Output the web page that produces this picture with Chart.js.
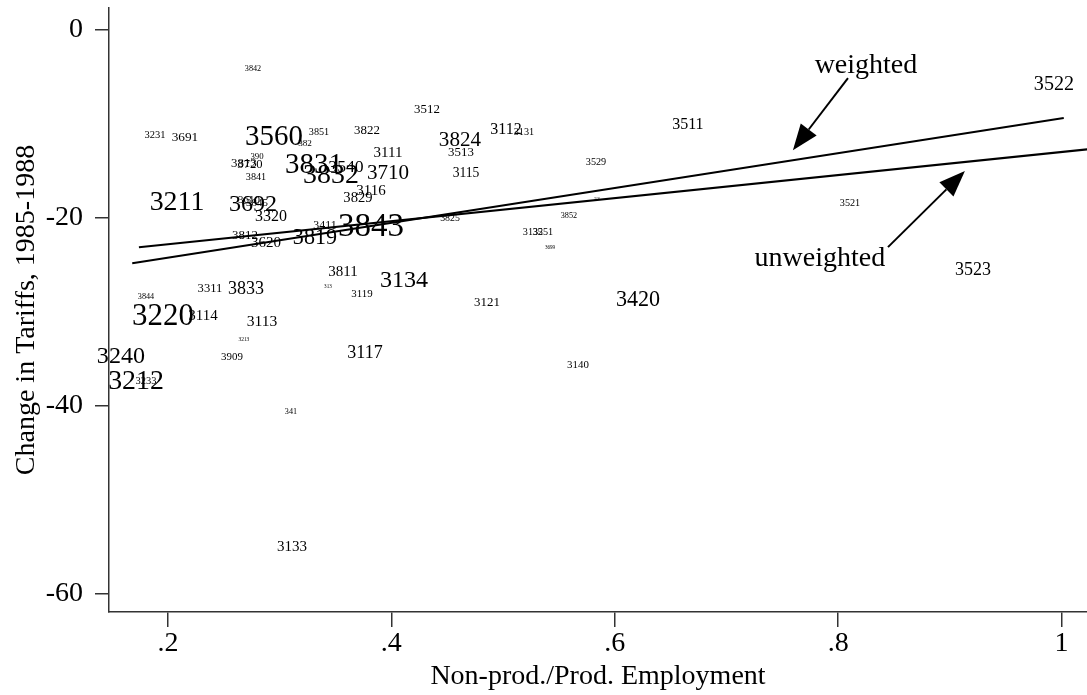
<!DOCTYPE html>
<html>
<head>
<meta charset="utf-8">
<script src="https://cdn.jsdelivr.net/npm/chart.js@4/dist/chart.umd.min.js"></script>
<style>
    html, body { margin: 0; padding: 0; background: #fff; }
    #contenedor { width: 1087px; height: 695px; }
</style>
</head>
<body>
<div id="contenedor"><canvas id="grafica"></canvas></div>
<script>
// industry codes (ISIC) used as point labels
const codigos = ["3842", "3231", "3691", "3560", "3851", "3822", "3512", "382", "3813", "390",
    "3720", "3841", "3831", "3832", "3540", "3710", "3111", "3116", "3829", "3824",
    "3513", "3115", "3112", "3131", "3511", "3529", "3522", "3521", "3523", "3211",
    "3692", "3610", "3845", "3320", "3812", "3620", "3819", "3411", "3843", "3825",
    "3132", "3551", "3852", "3699", "3530", "3811", "313", "3119", "3134", "3121",
    "3420", "3844", "3311", "3833", "3220", "3114", "3113", "3213", "3909", "3117",
    "3140", "3240", "3212", "3233", "341", "3133"];

// non-production / production employment
const noProd = [0.2761, 0.1884, 0.2152, 0.2949, 0.3352, 0.3782, 0.4319, 0.3227, 0.2680, 0.2797,
    0.2734, 0.2788, 0.3307, 0.3459, 0.3594, 0.3970, 0.3970, 0.3817, 0.3701, 0.4614,
    0.4623, 0.4668, 0.5026, 0.5187, 0.6655, 0.5832, 0.9932, 0.8106, 0.9207, 0.2081,
    0.2761, 0.2725, 0.2797, 0.2922, 0.2689, 0.2877, 0.3316, 0.3406, 0.3817, 0.4525,
    0.5268, 0.5357, 0.5590, 0.5420, 0.5841, 0.3567, 0.3432, 0.3737, 0.4113, 0.4856,
    0.6208, 0.1803, 0.2376, 0.2698, 0.1955, 0.2313, 0.2842, 0.2680, 0.2573, 0.3764,
    0.5671, 0.1579, 0.1714, 0.1803, 0.3101, 0.3110];

// change in tariffs 1985-1988
const cambioArancel = [-4.15, -11.17, -11.38, -11.38, -10.85, -10.64, -8.51, -12.02, -14.15, -13.51,
    -14.36, -15.64, -14.36, -15.53, -14.57, -15.21, -13.09, -17.13, -17.87, -11.70,
    -12.98, -15.21, -10.64, -10.85, -10.11, -14.04, -5.85, -18.40, -25.53, -18.40,
    -18.62, -18.09, -18.40, -19.89, -21.91, -22.66, -22.13, -20.85, -20.96, -20.00,
    -21.49, -21.49, -19.79, -23.19, -17.98, -25.74, -27.34, -28.09, -26.70, -29.04,
    -28.72, -28.40, -27.55, -27.55, -30.53, -30.43, -31.06, -32.87, -34.79, -34.36,
    -35.64, -34.79, -37.45, -37.34, -40.64, -55.00];

// relative weight of each industry (sets label size)
const pesos = [0.24, 0.31, 0.39, 0.85, 0.30, 0.38, 0.38, 0.27, 0.38, 0.26,
    0.37, 0.30, 0.85, 0.82, 0.52, 0.62, 0.44, 0.44, 0.43, 0.62,
    0.38, 0.40, 0.47, 0.30, 0.47, 0.30, 0.59, 0.30, 0.53, 0.82,
    0.71, 0.32, 0.32, 0.47, 0.38, 0.44, 0.65, 0.35, 0.97, 0.29,
    0.30, 0.30, 0.24, 0.15, 0.09, 0.44, 0.15, 0.32, 0.71, 0.38,
    0.65, 0.24, 0.37, 0.53, 0.91, 0.44, 0.46, 0.16, 0.32, 0.53,
    0.32, 0.71, 0.82, 0.31, 0.24, 0.44];

const xTicks = [0.2, 0.4, 0.6, 0.8, 1];
const yTicks = [0, -20, -40, -60];

// fitted lines
const ponderadaX = [0.168, 1.002];
const ponderadaY = [-24.8, -9.36];
const sinPonderarX = [0.174, 1.03];
const sinPonderarY = [-23.1, -12.6];

// annotations
const notas = ["weighted", "unweighted"];
const notasX = [0.8249, 0.7837];
const notasY = [-3.83, -24.26];
const flechaDesdeX = [0.8088, 0.8446];
const flechaDesdeY = [-5.11, -23.09];
const flechaHastaX = [0.7595, 0.9135];
const flechaHastaY = [-12.77, -15.0];

const serif = '"Liberation Serif", "Times New Roman", serif';

const etiquetas = {
    id: "etiquetas",
    beforeDatasetsDraw(chart) {
        const ctx = chart.ctx;
        const sx = chart.scales.x;
        const sy = chart.scales.y;
        ctx.save();
        ctx.fillStyle = "#000";
        ctx.textAlign = "center";
        ctx.textBaseline = "middle";
        codigos.forEach((c, i) => {
            ctx.font = (pesos[i] * 34).toFixed(1) + "px " + serif;
            ctx.fillText(c, sx.getPixelForValue(noProd[i]), sy.getPixelForValue(cambioArancel[i]));
        });
        ctx.restore();
    }
};

const flechas = {
    id: "flechas",
    afterDatasetsDraw(chart) {
        const ctx = chart.ctx;
        const sx = chart.scales.x;
        const sy = chart.scales.y;
        ctx.save();
        ctx.fillStyle = "#000";
        ctx.strokeStyle = "#000";
        ctx.lineWidth = 2;
        ctx.textAlign = "center";
        ctx.textBaseline = "middle";
        ctx.font = "28px " + serif;
        notas.forEach((t, i) => {
            ctx.fillText(t, sx.getPixelForValue(notasX[i]), sy.getPixelForValue(notasY[i]));
            const x0 = sx.getPixelForValue(flechaDesdeX[i]);
            const y0 = sy.getPixelForValue(flechaDesdeY[i]);
            const x1 = sx.getPixelForValue(flechaHastaX[i]);
            const y1 = sy.getPixelForValue(flechaHastaY[i]);
            const ang = Math.atan2(y1 - y0, x1 - x0);
            const largo = 26, ancho = 10;
            const bx = x1 - largo * Math.cos(ang);
            const by = y1 - largo * Math.sin(ang);
            ctx.beginPath();
            ctx.moveTo(x0, y0);
            ctx.lineTo(bx, by);
            ctx.stroke();
            ctx.beginPath();
            ctx.moveTo(x1, y1);
            ctx.lineTo(bx + ancho * Math.sin(ang), by - ancho * Math.cos(ang));
            ctx.lineTo(bx - ancho * Math.sin(ang), by + ancho * Math.cos(ang));
            ctx.closePath();
            ctx.fill();
        });
        ctx.restore();
    }
};

function puntos(xs, ys) {
    return xs.map((x, i) => ({ x: x, y: ys[i] }));
}

new Chart(document.querySelector("#grafica"), {
    type: "scatter",
    data: {
        datasets: [
            {
                label: "industries",
                data: puntos(noProd, cambioArancel),
                pointRadius: 0,
                pointHoverRadius: 0
            },
            {
                label: "weighted",
                data: puntos(ponderadaX, ponderadaY),
                showLine: true,
                borderColor: "#000",
                borderWidth: 2,
                pointRadius: 0
            },
            {
                label: "unweighted",
                data: puntos(sinPonderarX, sinPonderarY),
                showLine: true,
                borderColor: "#000",
                borderWidth: 2,
                pointRadius: 0
            }
        ]
    },
    options: {
        responsive: true,
        maintainAspectRatio: false,
        animation: false,
        layout: { padding: { top: 8, right: 0, left: 0, bottom: 0 } },
        plugins: {
            legend: { display: false },
            tooltip: { enabled: false }
        },
        scales: {
            x: {
                type: "linear",
                min: 0.1472,
                max: 1.0228,
                afterBuildTicks: (s) => { s.ticks = xTicks.map((v) => ({ value: v })); },
                afterFit: (s) => { s.height = 83; s.paddingLeft = 0; s.paddingRight = 0; },
                grid: { drawOnChartArea: false, drawTicks: true, tickLength: 15, color: "#333", lineWidth: 1.5 },
                border: { display: true, color: "#333", width: 1.5 },
                ticks: {
                    color: "#000",
                    padding: 0,
                    maxRotation: 0,
                    font: { family: serif, size: 28 },
                    callback: (v) => String(v).replace(/^0\./, ".")
                },
                title: {
                    display: true,
                    text: "Non-prod./Prod. Employment",
                    color: "#000",
                    font: { family: serif, size: 28 },
                    padding: { top: 0, bottom: 2 }
                }
            },
            y: {
                type: "linear",
                min: -61.9,
                max: 2.35,
                afterBuildTicks: (s) => { s.ticks = yTicks.map((v) => ({ value: v })); },
                afterFit: (s) => { s.width = 109; s.paddingTop = 0; s.paddingBottom = 0; },
                grid: { drawOnChartArea: false, drawTicks: true, tickLength: 14, color: "#333", lineWidth: 1.5 },
                border: { display: true, color: "#333", width: 1.5 },
                ticks: {
                    color: "#000",
                    padding: 12,
                    font: { family: serif, size: 28 }
                },
                title: {
                    display: true,
                    text: "Change in Tariffs, 1985-1988",
                    color: "#000",
                    font: { family: serif, size: 28 },
                    padding: { top: 10, bottom: 0 }
                }
            }
        }
    },
    plugins: [etiquetas, flechas]
});
</script>
</body>
</html>
